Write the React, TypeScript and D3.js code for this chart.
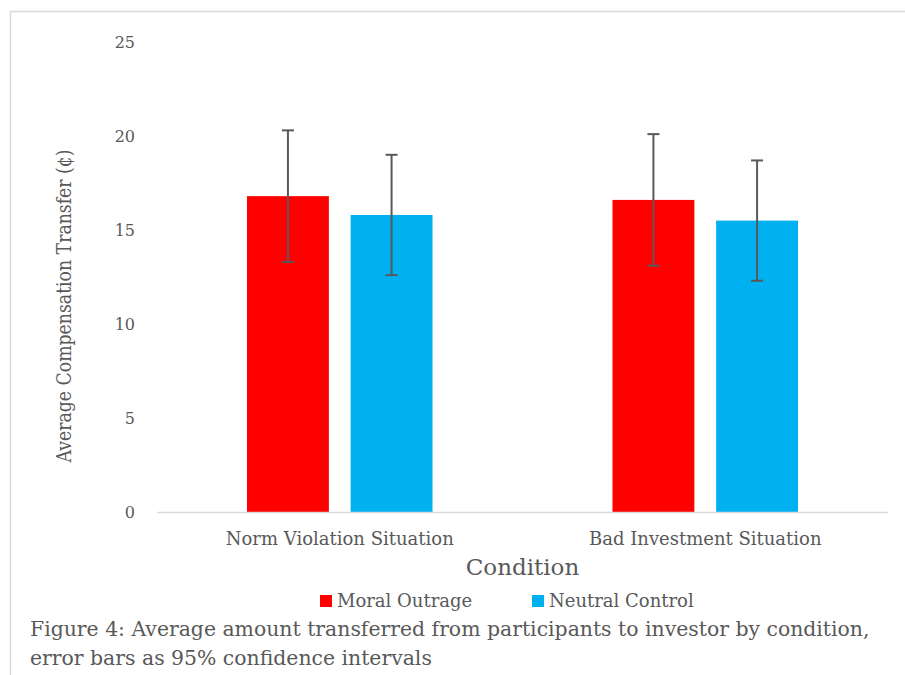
import React from "react";
import * as d3 from "d3";

const categories = ["Norm Violation Situation", "Bad Investment Situation"];
const seriesNames = ["Moral Outrage", "Neutral Control"];
const moralOutrage = [16.8, 16.6];
const neutralControl = [15.8, 15.5];
const moralLow = [13.3, 13.1];
const moralHigh = [20.3, 20.1];
const neutralLow = [12.6, 12.3];
const neutralHigh = [19.0, 18.7];
const yTicks = [0, 5, 10, 15, 20, 25];

const colors = ["#FF0000", "#00B0F0"];
const textColor = "#595959";
const font = "DejaVu Serif";

export default function App() {
  const W = 905, H = 675;
  const left = 157, right = 888, top = 42, bottom = 512;
  const y = d3.scaleLinear().domain([0, 25]).range([bottom, top]);
  const x0 = d3.scaleBand().domain(categories).range([left, right]).paddingInner(0).paddingOuter(0);
  const innerPad = 90;
  const x1 = d3.scaleBand().domain(seriesNames).range([innerPad, x0.bandwidth() - innerPad]).paddingInner(0.21).paddingOuter(0);
  const series = [
    { name: seriesNames[0], vals: moralOutrage, lo: moralLow, hi: moralHigh, color: colors[0] },
    { name: seriesNames[1], vals: neutralControl, lo: neutralLow, hi: neutralHigh, color: colors[1] },
  ];
  const capW = 6;
  const t1 = { fontFamily: font };
  return (
    <svg width={W} height={H} style={{ position: "absolute", left: 0, top: 0, background: "#fff" }}>
      <rect x={10.5} y={11.5} width={W + 10} height={H + 10} fill="#fff" stroke="#d9d9d9" strokeWidth={1.5} />
      {yTicks.map((t) => (
        <text key={t} x={135} y={y(t)} dy="0.38em" textAnchor="end" style={t1} fontSize={16} fill={textColor}>
          {t}
        </text>
      ))}
      {categories.map((c, i) => (
        <g key={c} transform={`translate(${x0(c)},0)`}>
          {series.map((s) => {
            const bx = x1(s.name)!;
            const bw = x1.bandwidth();
            const cx = bx + bw / 2;
            return (
              <g key={s.name}>
                <rect x={bx} y={y(s.vals[i])} width={bw} height={y(0) - y(s.vals[i])} fill={s.color} />
                <line x1={cx} x2={cx} y1={y(s.hi[i])} y2={y(s.lo[i])} stroke={textColor} strokeWidth={2} />
                <line x1={cx - capW} x2={cx + capW} y1={y(s.hi[i])} y2={y(s.hi[i])} stroke={textColor} strokeWidth={2} />
                <line x1={cx - capW} x2={cx + capW} y1={y(s.lo[i])} y2={y(s.lo[i])} stroke={textColor} strokeWidth={2} />
              </g>
            );
          })}
          <text x={x0.bandwidth() / 2} y={545} textAnchor="middle" style={t1} fontSize={18} fill={textColor}>
            {c}
          </text>
        </g>
      ))}
      <line x1={left} x2={right} y1={y(0) + 0.5} y2={y(0) + 0.5} stroke="#d9d9d9" strokeWidth={1.5} />
      <text x={(left + right) / 2} y={575} textAnchor="middle" style={t1} fontSize={23} fill={textColor}>
        Condition
      </text>
      <text transform={`translate(71,306) rotate(-90)`} textAnchor="middle" style={t1} fontSize={19.5} textLength={313} lengthAdjust="spacingAndGlyphs" fill={textColor}>
        Average Compensation Transfer (¢)
      </text>
      {series.map((s, i) => {
        const lx = i === 0 ? 320 : 532;
        return (
          <g key={s.name}>
            <rect x={lx} y={595} width={12} height={12} fill={s.color} />
            <text x={lx + 17} y={607} style={t1} fontSize={18} fill={textColor}>
              {s.name}
            </text>
          </g>
        );
      })}
      <text x={30} y={636} style={t1} fontSize={20.4} fill={textColor}>
        Figure 4: Average amount transferred from participants to investor by condition,
      </text>
      <text x={30} y={665} style={t1} fontSize={20.4} fill={textColor}>
        error bars as 95% confidence intervals
      </text>
    </svg>
  );
}
